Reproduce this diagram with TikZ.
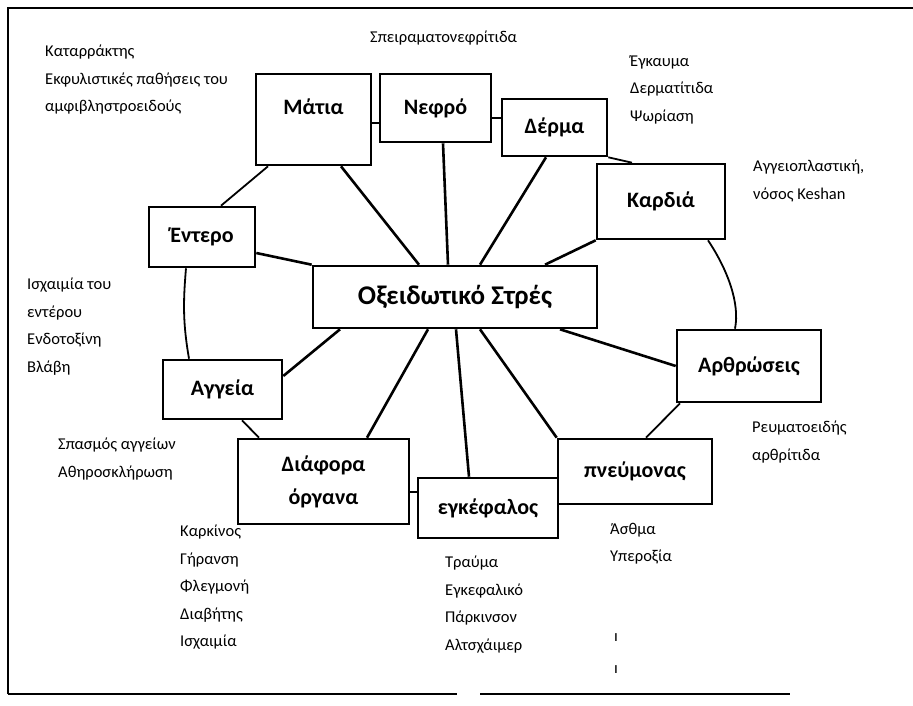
\documentclass[tikz,border=0pt]{standalone}
\usepackage{fontspec}
\setmainfont{Carlito}
\usetikzlibrary{positioning,calc}

\begin{document}
\begin{tikzpicture}[x=1pt, y=-1pt,
    every node/.style={font=\fontsize{16.5}{27.5}\selectfont},
    organ/.style={draw, line width=2.6pt, inner sep=0pt, align=center, font=\fontsize{22}{33}\selectfont\bfseries},
    stress/.style={organ, font=\fontsize{27}{32}\selectfont\bfseries},
    note/.style={anchor=north west, inner sep=0pt, align=left},
    spoke/.style={line width=2.6pt},
    ring/.style={line width=1.8pt}]
    \useasboundingbox (0,0) rectangle (913,706);

    % frame
    \draw[line width=2.6pt] (8,694) -- (8,8) -- (913,8);
    \draw[line width=2pt] (8,694) -- (457,694);
    \draw[line width=2pt] (480,694) -- (790,694);

    % boxes
    \node[stress, minimum width=284pt, minimum height=62pt] (cs) at (455,297) {Οξειδωτικό Στρές};
    \node[organ, minimum width=115pt, minimum height=91pt, text depth=25pt] (mata) at (313.5,119.5) {Μάτια};
    \node[organ, minimum width=111pt, minimum height=68pt] (nefro) at (435.5,108) {Νεφρό};
    \node[organ, minimum width=105pt, minimum height=57pt] (derma) at (554.5,127.5) {Δέρμα};
    \node[organ, minimum width=128pt, minimum height=75pt] (kardia) at (661,201.5) {Καρδιά};
    \node[organ, minimum width=106pt, minimum height=60pt] (entero) at (202,237) {Έντερο};
    \node[organ, minimum width=144pt, minimum height=72pt] (arthr) at (749,366) {Αρθρώσεις};
    \node[organ, minimum width=119pt, minimum height=59pt] (aggeia) at (222.5,389.5) {Αγγεία};
    \node[organ, minimum width=171pt, minimum height=85pt] (diafora) at (323.5,481.5) {Διάφορα\\όργανα};
    \node[organ, minimum width=140pt, minimum height=60pt] (egk) at (488,508) {εγκέφαλος};
    \node[organ, minimum width=154pt, minimum height=65pt] (pneum) at (635,471.5) {πνεύμονας};

    % spokes
    \draw[spoke] ([xshift=27.5pt]mata.south) -- ([xshift=-36pt]cs.north);
    \draw[spoke] ([xshift=7.5pt]nefro.south) -- ([xshift=-7pt]cs.north);
    \draw[spoke] ([xshift=-8.5pt]derma.south) -- ([xshift=25pt]cs.north);
    \draw[spoke] (kardia.south west) -- ([xshift=90pt]cs.north);
    \draw[spoke] ([yshift=-16pt]entero.east) -- (cs.north west);
    \draw[spoke] ([xshift=105pt]cs.south) -- (arthr.west);
    \draw[spoke] ([xshift=-115pt]cs.south) -- ([yshift=13.5pt]aggeia.east);
    \draw[spoke] ([xshift=-27pt]cs.south) -- ([xshift=43.5pt]diafora.north);
    \draw[spoke] ([xshift=1pt]cs.south) -- ([xshift=-19pt]egk.north);
    \draw[spoke] ([xshift=25pt]cs.south) -- (pneum.north west);

    % ring
    \draw[ring] ([yshift=-3.5pt]mata.east) -- ([yshift=-3.5pt]mata.east -| nefro.west);
    \draw[ring] ([yshift=-10pt]nefro.east) -- ([yshift=-10pt]nefro.east -| derma.west);
    \draw[ring] (derma.south east) -- ([xshift=-29pt]kardia.north);
    \draw[ring] ([xshift=47pt]kardia.south) .. controls +(20,30) and +(5,-25) .. ([xshift=-14pt]arthr.north);
    \draw[ring] ([xshift=-69pt]arthr.south) -- ([xshift=11pt]pneum.north);
    \draw[ring] ([yshift=-10.5pt]diafora.east) -- ([yshift=-10.5pt]diafora.east -| egk.west);
    \draw[ring] ([xshift=19.5pt]aggeia.south) -- ([xshift=-64.5pt]diafora.north);
    \draw[ring] ([xshift=-33.5pt]aggeia.north) .. controls +(-6,-35) and +(-3,35) .. ([xshift=-16pt]entero.south);
    \draw[ring] ([xshift=19pt]entero.north) -- ([xshift=-45.5pt]mata.south);

    % notes
    \node[note] (n-mata) at (45,45) {Καταρράκτης\\Εκφυλιστικές παθήσεις του\\αμφιβληστροειδούς};
    \node[note] (n-nefro) at (370,31) {Σπειραματονεφρίτιδα};
    \node[note] (n-derma) at (630,55) {Έγκαυμα\\Δερματίτιδα\\Ψωρίαση};
    \node[note] (n-kardia) at (753,160) {Αγγειοπλαστική,\\νόσος Keshan};
    \node[note] (n-entero) at (27,278) {Ισχαιμία του\\εντέρου\\Ενδοτοξίνη\\Βλάβη};
    \node[note] (n-aggeia) at (58,438) {Σπασμός αγγείων\\Αθηροσκλήρωση};
    \node[note] (n-diafora) at (180,525) {Καρκίνος\\Γήρανση\\Φλεγμονή\\Διαβήτης\\Ισχαιμία};
    \node[note] (n-egk) at (445,556) {Τραύμα\\Εγκεφαλικό\\Πάρκινσον\\Αλτσχάιμερ};
    \node[note] (n-pneum) at (610,523) {Άσθμα\\Υπεροξία};
    \node[note] (tick1) at (614,633) {ı};
    \node[note] (tick2) at (614,665) {ı};
    \node[note] (n-arthr) at (752,421) {Ρευματοειδής\\αρθρίτιδα};
\end{tikzpicture}
\end{document}
